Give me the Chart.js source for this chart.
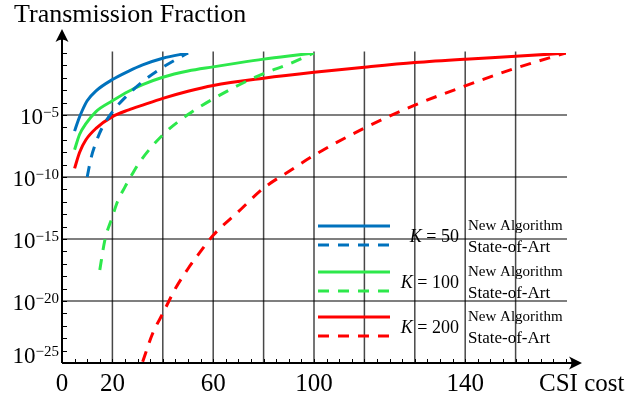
<!DOCTYPE html>
<html>
<head>
<meta charset="utf-8">
<script src="https://cdn.jsdelivr.net/npm/chart.js@4.4.0/dist/chart.umd.min.js"></script>
<style>
  html, body { margin: 0; padding: 0; background: #fff; }
</style>
</head>
<body>
<canvas id="myChart" width="644" height="399"></canvas>
<script>
// valores (x = CSI cost, y = transmission fraction)
var xBlueNew = [5, 6.5, 8, 10, 13.5, 20, 26.5, 32, 40, 50];
var yBlueNew = [5e-7, 4e-6, 2.2e-5, 1.4e-4, 8.9e-4, 7.2e-3, 3.5e-2, 0.11, 0.38, 1];

var xBlueOld = [10, 11.5, 13.5, 16, 20, 25, 32, 40, 45, 50];
var yBlueOld = [1e-10, 3.2e-9, 6.3e-8, 1e-6, 1.8e-5, 2.5e-4, 5e-3, 7e-2, 0.28, 1];

var xGreenNew = [5, 7, 9.5, 13.5, 20, 26.5, 32, 40, 50, 60, 70, 80, 90, 100];
var yGreenNew = [1.6e-8, 2.8e-7, 2e-6, 1.9e-5, 1.4e-4, 8.3e-4, 2.8e-3, 1.1e-2, 3.5e-2, 7.6e-2, 0.16, 0.32, 0.58, 1];

var xGreenOld = [15, 17, 20, 22, 25, 27.5, 31, 40, 50, 60, 70, 80, 90, 100];
var yGreenOld = [3.2e-18, 7.9e-16, 6.3e-14, 1e-12, 1.6e-11, 1.26e-10, 1.8e-9, 2.5e-7, 1.1e-5, 2e-4, 2.5e-3, 2.2e-2, 0.126, 1];

var xRedNew = [5, 7, 9.5, 13.5, 20, 26.5, 32, 40, 50, 60, 80, 100, 120, 140, 160, 180, 200];
var yRedNew = [5e-10, 1e-8, 1e-7, 8.3e-7, 7.4e-6, 2.6e-5, 6.3e-5, 2.2e-4, 8.3e-4, 2.4e-3, 9.3e-3, 2.8e-2, 7.2e-2, 0.17, 0.32, 0.54, 1];

var xRedOld = [32, 36, 40, 45, 50, 55, 60, 70, 80, 90, 100, 120, 140, 160, 180, 200];
var yRedOld = [1.26e-25, 2.5e-23, 1e-21, 1e-19, 4e-18, 1e-16, 2e-15, 1.6e-13, 1.26e-11, 2.8e-10, 5.6e-9, 8.9e-7, 6.3e-5, 2.2e-3, 6e-2, 1];

// eixos
var xTickValues = [0, 20, 60, 100, 160];
var xTickLabels = ['0', '20', '60', '100', '140'];
var xGridValues = [20, 40, 60, 80, 100, 120, 140, 160, 180];
var yTickValues = [1e-5, 1e-10, 1e-15, 1e-20, 1e-25];
var yTickExps = ['\u22125', '\u221210', '\u221215', '\u221220', '\u221225'];
var yGridValues = [1e-5, 1e-10, 1e-15, 1e-20];

var kValues = ['50', '100', '200'];
var nomeNovo = 'New Algorithm';
var nomeAntigo = 'State-of-Art';
var tituloY = 'Transmission Fraction';
var tituloX = 'CSI cost';

var azul = '#0072bd';
var verde = 'rgb(45,232,75)';
var vermelho = '#ff0000';
var serif = '"Liberation Serif", "DejaVu Serif", serif';

function juntar(xs, ys) {
    var pts = [];
    for (var i = 0; i < xs.length; i++) {
        pts.push({ x: xs[i], y: ys[i] });
    }
    return pts;
}

function serie(label, xs, ys, cor, tracejado) {
    return {
        label: label,
        data: juntar(xs, ys),
        borderColor: cor,
        borderWidth: 3,
        borderDash: tracejado ? [11, 9] : [],
        pointRadius: 0,
        cubicInterpolationMode: 'monotone',
        fill: false
    };
}

function seta(ctx, x, y, dir) {
    // ponta de seta estilo latex
    ctx.save();
    ctx.translate(x, y);
    ctx.rotate(dir);
    ctx.beginPath();
    ctx.moveTo(0, 0);
    ctx.lineTo(-13, -6.5);
    ctx.quadraticCurveTo(-8, 0, -13, 6.5);
    ctx.closePath();
    ctx.fillStyle = '#000';
    ctx.fill();
    ctx.restore();
}

var desenhoPlugin = {
    id: 'desenho',
    beforeDatasetsDraw: function (chart) {
        var ctx = chart.ctx;
        var xs = chart.scales.x, ys = chart.scales.y;
        var area = chart.chartArea;
        ctx.save();
        ctx.strokeStyle = 'rgba(0,0,0,0.72)';
        ctx.lineWidth = 1.5;
        for (var i = 0; i < xGridValues.length; i++) {
            var px = xs.getPixelForValue(xGridValues[i]);
            ctx.beginPath();
            ctx.moveTo(px, area.top - 1.5);
            ctx.lineTo(px, area.bottom);
            ctx.stroke();
        }
        ctx.strokeStyle = '#000';
        ctx.lineWidth = 1.2;
        for (i = 0; i < yGridValues.length; i++) {
            var py = ys.getPixelForValue(yGridValues[i]);
            ctx.beginPath();
            ctx.moveTo(area.left, py);
            ctx.lineTo(area.right + 1, py);
            ctx.stroke();
        }
        ctx.restore();
    },
    afterDraw: function (chart) {
        var ctx = chart.ctx;
        var xs = chart.scales.x, ys = chart.scales.y;
        var area = chart.chartArea;
        var x0 = area.left, y0 = area.bottom;
        ctx.save();

        // marcas pequenas
        ctx.strokeStyle = '#000';
        ctx.lineWidth = 1;
        for (var v = 5; v <= 200; v += 5) {
            var px = Math.round(xs.getPixelForValue(v)) + 0.5;
            ctx.beginPath();
            ctx.moveTo(px, y0);
            ctx.lineTo(px, y0 - 4);
            ctx.stroke();
        }
        for (var e = -24; e <= 0; e++) {
            var py = Math.round(ys.getPixelForValue(Math.pow(10, e))) + 0.5;
            ctx.beginPath();
            ctx.moveTo(x0, py);
            ctx.lineTo(x0 + 5, py);
            ctx.stroke();
        }

        // eixos com setas
        ctx.lineWidth = 2;
        ctx.beginPath();
        ctx.moveTo(x0, y0);
        ctx.lineTo(area.right + 12, y0);
        ctx.moveTo(x0, y0);
        ctx.lineTo(x0, area.top - 20);
        ctx.stroke();
        seta(ctx, area.right + 16, y0, 0);
        seta(ctx, x0, area.top - 24, -Math.PI / 2);

        // rotulos do eixo x
        ctx.fillStyle = '#000';
        ctx.font = '25px ' + serif;
        ctx.textAlign = 'center';
        ctx.textBaseline = 'alphabetic';
        for (var i = 0; i < xTickValues.length; i++) {
            ctx.fillText(xTickLabels[i], xs.getPixelForValue(xTickValues[i]), 391);
        }

        // rotulos do eixo y (10 com expoente)
        for (i = 0; i < yTickValues.length; i++) {
            var yp = ys.getPixelForValue(yTickValues[i]);
            var base = yp + 9;
            if (i == yTickValues.length - 1) base = yp;
            ctx.textAlign = 'right';
            ctx.font = '15px ' + serif;
            var wExp = ctx.measureText(yTickExps[i]).width;
            ctx.fillText(yTickExps[i], 59, base - 7);
            ctx.font = '23px ' + serif;
            ctx.fillText('10', 59 - wExp, base);
        }

        // titulos
        ctx.textAlign = 'left';
        ctx.font = '26px ' + serif;
        ctx.fillText(tituloY, 14, 22);
        ctx.font = '25px ' + serif;
        ctx.fillText(tituloX, 539, 391);

        // legenda
        var topos = [226, 272, 317];
        var ds = chart.data.datasets;
        for (var g = 0; g < 3; g++) {
            var t = topos[g];
            var linhas = [ds[g * 2], ds[g * 2 + 1]];
            var ys2 = [t, t + 19];
            for (var k = 0; k < 2; k++) {
                ctx.strokeStyle = linhas[k].borderColor;
                ctx.lineWidth = 3;
                ctx.setLineDash(linhas[k].borderDash);
                ctx.beginPath();
                ctx.moveTo(318, ys2[k]);
                ctx.lineTo(390, ys2[k]);
                ctx.stroke();
            }
            ctx.setLineDash([]);
            ctx.fillStyle = '#000';
            ctx.textAlign = 'left';
            ctx.font = '18px ' + serif;
            var resto = ' = ' + kValues[g];
            var wResto = ctx.measureText(resto).width;
            ctx.font = 'italic 18px ' + serif;
            var wK = ctx.measureText('K').width;
            ctx.fillText('K', 459 - wResto - wK, t + 16);
            ctx.font = '18px ' + serif;
            ctx.fillText(resto, 459 - wResto, t + 16);
            ctx.font = '15px ' + serif;
            ctx.fillText(nomeNovo, 468, t + 4);
            ctx.font = '17px ' + serif;
            ctx.fillText(nomeAntigo, 468, t + 26);
        }
        ctx.restore();
    }
};

var ctx = document.getElementById('myChart');

var Grafico = new Chart(ctx, {
    type: 'line',
    data: {
        datasets: [
            serie('K = 50 ' + nomeNovo, xBlueNew, yBlueNew, azul, false),
            serie('K = 50 ' + nomeAntigo, xBlueOld, yBlueOld, azul, true),
            serie('K = 100 ' + nomeNovo, xGreenNew, yGreenNew, verde, false),
            serie('K = 100 ' + nomeAntigo, xGreenOld, yGreenOld, verde, true),
            serie('K = 200 ' + nomeNovo, xRedNew, yRedNew, vermelho, false),
            serie('K = 200 ' + nomeAntigo, xRedOld, yRedOld, vermelho, true)
        ]
    },
    options: {
        responsive: false,
        animation: false,
        devicePixelRatio: 1,
        layout: {
            padding: { left: 62, right: 78, top: 53, bottom: 36 }
        },
        plugins: {
            legend: { display: false },
            tooltip: { enabled: false }
        },
        scales: {
            x: {
                type: 'linear',
                min: 0,
                max: 200,
                display: false
            },
            y: {
                type: 'logarithmic',
                min: 1e-25,
                max: 1,
                display: false
            }
        }
    },
    plugins: [desenhoPlugin]
});
</script>
</body>
</html>
